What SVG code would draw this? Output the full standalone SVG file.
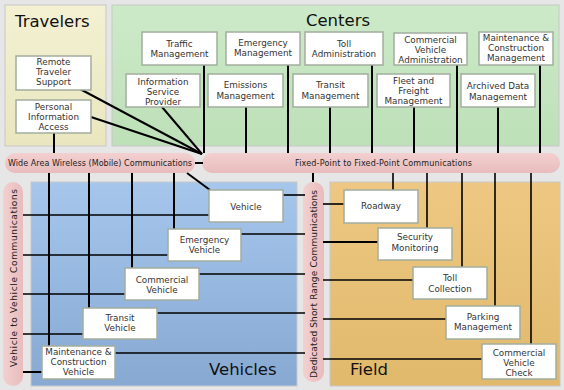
<svg xmlns="http://www.w3.org/2000/svg" width="564" height="390" viewBox="0 0 564 390">
<defs>
<linearGradient id="gTrav" x1="0" y1="0" x2="0" y2="1"><stop offset="0" stop-color="#f3f1d2"/><stop offset="1" stop-color="#e9e6bf"/></linearGradient>
<linearGradient id="gCent" x1="0" y1="0" x2="0" y2="1"><stop offset="0" stop-color="#cdeac8"/><stop offset="1" stop-color="#bde0b8"/></linearGradient>
<linearGradient id="gVeh" x1="0" y1="0" x2="0" y2="1"><stop offset="0" stop-color="#a6c6ec"/><stop offset="1" stop-color="#87a9d2"/></linearGradient>
<linearGradient id="gField" x1="0" y1="0" x2="0" y2="1"><stop offset="0" stop-color="#eec882"/><stop offset="1" stop-color="#e0b96c"/></linearGradient>
<linearGradient id="gBarH" x1="0" y1="0" x2="0" y2="1"><stop offset="0" stop-color="#f3d0d0"/><stop offset="1" stop-color="#e8bcbc"/></linearGradient>
<linearGradient id="gBarV" x1="0" y1="0" x2="1" y2="0"><stop offset="0" stop-color="#f3d0d0"/><stop offset="1" stop-color="#e8bcbc"/></linearGradient>
</defs>
<style>
.panel{stroke:#c8c8c8;stroke-width:1}
.box{fill:#ffffff;stroke:#a3ad9f;stroke-width:1.5}
.bt{font-family:"DejaVu Sans",Verdana,sans-serif;font-size:8.8px;fill:#333333;text-anchor:middle}
.title{font-family:"DejaVu Sans",Verdana,sans-serif;font-size:16.5px;fill:#111111}
.bar{font-family:"DejaVu Sans",Verdana,sans-serif;font-size:8px;fill:#222222}
.vbar{font-family:"DejaVu Sans",Verdana,sans-serif;font-size:9px;fill:#222222;text-anchor:middle}
.ln{stroke:#000000;stroke-width:2;fill:none}
.lt{stroke:#000000;stroke-width:1.6;fill:none}
</style>
<rect x="0" y="0" width="564" height="390" fill="#e6e6e6"/>

<g id="panel-travelers">
<rect class="panel" x="5" y="5" width="101" height="141" fill="url(#gTrav)"/>
<text class="title" x="15" y="27">Travelers</text>
</g>
<g id="panel-centers">
<rect class="panel" x="112" y="5" width="447" height="141" fill="url(#gCent)"/>
<text class="title" x="338" y="26" text-anchor="middle">Centers</text>
</g>
<g id="panel-vehicles">
<rect class="panel" x="31" y="182" width="266" height="204" fill="url(#gVeh)"/>
<text class="title" x="209" y="375">Vehicles</text>
</g>
<g id="panel-field">
<rect class="panel" x="330" y="182" width="230" height="204" fill="url(#gField)"/>
<text class="title" x="350" y="375">Field</text>
</g>

<g id="bar-wide-area">
<rect x="5" y="153" width="190" height="20" rx="10" fill="url(#gBarH)"/>
<text class="bar" x="8" y="166" textLength="184">Wide Area Wireless (Mobile) Communications</text>
</g>
<g id="bar-fixed-point">
<rect x="202" y="153" width="358" height="20" rx="10" fill="url(#gBarH)"/>
<text class="bar" x="295" y="166" textLength="177">Fixed-Point to Fixed-Point Communications</text>
</g>
<g id="bar-v2v">
<rect x="3" y="182" width="20" height="204" rx="10" fill="url(#gBarV)"/>
<text class="vbar" transform="translate(16.5,278) rotate(-90)" x="0" y="0" textLength="178">Vehicle to Vehicle Communications</text>
</g>
<g id="bar-dsrc">
<rect x="303" y="182" width="21" height="200" rx="10" fill="url(#gBarV)"/>
<text class="vbar" transform="translate(317,284) rotate(-90)" x="0" y="0" textLength="188">Dedicated Short Range Communications</text>
</g>

<g id="connectors">
<line class="ln" x1="80" y1="89" x2="202" y2="154"/>
<line class="ln" x1="91" y1="117" x2="202" y2="154"/>
<line class="ln" x1="162" y1="107" x2="202" y2="154"/>
<line class="ln" x1="204" y1="65" x2="204" y2="153"/>
<line class="ln" x1="54" y1="133" x2="54" y2="153"/>
<line class="ln" x1="246" y1="107" x2="246" y2="153"/>
<line class="ln" x1="288" y1="65" x2="288" y2="153"/>
<line class="ln" x1="330" y1="107" x2="330" y2="153"/>
<line class="ln" x1="372" y1="65" x2="372" y2="153"/>
<line class="ln" x1="414" y1="107" x2="414" y2="153"/>
<line class="ln" x1="457" y1="65" x2="457" y2="153"/>
<line class="ln" x1="498" y1="107" x2="498" y2="153"/>
<line class="ln" x1="540" y1="65" x2="540" y2="153"/>
<line class="ln" x1="195" y1="163" x2="203" y2="163"/>
<line class="ln" x1="49" y1="173" x2="49" y2="346"/>
<line class="ln" x1="89" y1="173" x2="89" y2="308"/>
<line class="ln" x1="132" y1="173" x2="132" y2="268"/>
<line class="ln" x1="174" y1="173" x2="174" y2="229"/>
<line class="ln" x1="187" y1="173" x2="210" y2="190"/>
<line class="lt" x1="23" y1="215" x2="209" y2="215"/>
<line class="lt" x1="23" y1="255" x2="168" y2="255"/>
<line class="lt" x1="23" y1="294" x2="125" y2="294"/>
<line class="lt" x1="23" y1="334" x2="83" y2="334"/>
<line class="ln" x1="23" y1="372" x2="42" y2="372"/>
<line class="lt" x1="283" y1="195" x2="305" y2="195"/>
<line class="lt" x1="241" y1="234" x2="305" y2="234"/>
<line class="lt" x1="199" y1="274" x2="305" y2="274"/>
<line class="lt" x1="157" y1="313" x2="305" y2="313"/>
<line class="lt" x1="115" y1="353" x2="305" y2="353"/>
<line class="ln" x1="313" y1="173" x2="313" y2="182"/>
<line class="lt" x1="393" y1="173" x2="393" y2="190"/>
<line class="lt" x1="427" y1="173" x2="427" y2="228"/>
<line class="lt" x1="462" y1="173" x2="462" y2="267"/>
<line class="lt" x1="495" y1="173" x2="495" y2="306"/>
<line class="lt" x1="531" y1="173" x2="531" y2="344"/>
<line class="lt" x1="323" y1="204" x2="344" y2="204"/>
<line class="ln" x1="323" y1="242" x2="378" y2="242"/>
<line class="lt" x1="323" y1="280" x2="413" y2="280"/>
<line class="lt" x1="323" y1="319" x2="446" y2="319"/>
<line class="lt" x1="323" y1="359" x2="482" y2="359"/>
</g>

<g id="node-remote-traveler-support"><rect class="box" x="16" y="56" width="75" height="34"/><text class="bt" x="53.5" y="65">Remote</text><text class="bt" x="53.5" y="75">Traveler</text><text class="bt" x="53.5" y="85">Support</text></g>
<g id="node-personal-information-access"><rect class="box" x="16" y="100" width="75" height="33"/><text class="bt" x="53.5" y="110">Personal</text><text class="bt" x="53.5" y="120">Information</text><text class="bt" x="53.5" y="130">Access</text></g>

<g id="node-traffic-management"><rect class="box" x="142" y="32" width="75" height="33"/><text class="bt" x="179.5" y="47">Traffic</text><text class="bt" x="179.5" y="57">Management</text></g>
<g id="node-emergency-management"><rect class="box" x="226" y="32" width="74" height="33"/><text class="bt" x="263" y="46">Emergency</text><text class="bt" x="263" y="56">Management</text></g>
<g id="node-toll-administration"><rect class="box" x="305" y="32" width="78" height="33"/><text class="bt" x="344" y="47">Toll</text><text class="bt" x="344" y="57">Administration</text></g>
<g id="node-commercial-vehicle-administration"><rect class="box" x="394" y="33" width="73" height="32"/><text class="bt" x="430.5" y="43">Commercial</text><text class="bt" x="430.5" y="53">Vehicle</text><text class="bt" x="430.5" y="63">Administration</text></g>
<g id="node-maintenance-construction-management"><rect class="box" x="479" y="32" width="74" height="33"/><text class="bt" x="516" y="41">Maintenance &amp;</text><text class="bt" x="516" y="51">Construction</text><text class="bt" x="516" y="61">Management</text></g>
<g id="node-information-service-provider"><rect class="box" x="126" y="74" width="74" height="33"/><text class="bt" x="163" y="85">Information</text><text class="bt" x="163" y="95">Service</text><text class="bt" x="163" y="105">Provider</text></g>
<g id="node-emissions-management"><rect class="box" x="208" y="74" width="75" height="33"/><text class="bt" x="245.5" y="88">Emissions</text><text class="bt" x="245.5" y="99">Management</text></g>
<g id="node-transit-management"><rect class="box" x="293" y="74" width="75" height="33"/><text class="bt" x="330.5" y="88">Transit</text><text class="bt" x="330.5" y="99">Management</text></g>
<g id="node-fleet-freight-management"><rect class="box" x="377" y="74" width="73" height="33"/><text class="bt" x="413.5" y="84">Fleet and</text><text class="bt" x="413.5" y="94">Freight</text><text class="bt" x="413.5" y="104">Management</text></g>
<g id="node-archived-data-management"><rect class="box" x="461" y="74" width="74" height="33"/><text class="bt" x="498" y="89">Archived Data</text><text class="bt" x="498" y="100">Management</text></g>

<g id="node-vehicle"><rect class="box" x="209" y="190" width="74" height="32"/><text class="bt" x="246" y="210">Vehicle</text></g>
<g id="node-emergency-vehicle"><rect class="box" x="168" y="229" width="73" height="32"/><text class="bt" x="204.5" y="243">Emergency</text><text class="bt" x="204.5" y="253">Vehicle</text></g>
<g id="node-commercial-vehicle"><rect class="box" x="125" y="268" width="74" height="32"/><text class="bt" x="162" y="283">Commercial</text><text class="bt" x="162" y="293">Vehicle</text></g>
<g id="node-transit-vehicle"><rect class="box" x="83" y="308" width="74" height="31"/><text class="bt" x="120" y="321">Transit</text><text class="bt" x="120" y="331">Vehicle</text></g>
<g id="node-maintenance-construction-vehicle"><rect class="box" x="42" y="346" width="73" height="33"/><text class="bt" x="78.5" y="355">Maintenance &amp;</text><text class="bt" x="78.5" y="365">Construction</text><text class="bt" x="78.5" y="375">Vehicle</text></g>

<g id="node-roadway"><rect class="box" x="344" y="190" width="74" height="33"/><text class="bt" x="381" y="209">Roadway</text></g>
<g id="node-security-monitoring"><rect class="box" x="378" y="228" width="74" height="32"/><text class="bt" x="415" y="240">Security</text><text class="bt" x="415" y="251">Monitoring</text></g>
<g id="node-toll-collection"><rect class="box" x="413" y="267" width="74" height="32"/><text class="bt" x="450" y="281">Toll</text><text class="bt" x="450" y="292">Collection</text></g>
<g id="node-parking-management"><rect class="box" x="446" y="306" width="74" height="33"/><text class="bt" x="483" y="320">Parking</text><text class="bt" x="483" y="330">Management</text></g>
<g id="node-commercial-vehicle-check"><rect class="box" x="482" y="344" width="74" height="35"/><text class="bt" x="519" y="356">Commercial</text><text class="bt" x="519" y="366">Vehicle</text><text class="bt" x="519" y="376">Check</text></g>
</svg>
